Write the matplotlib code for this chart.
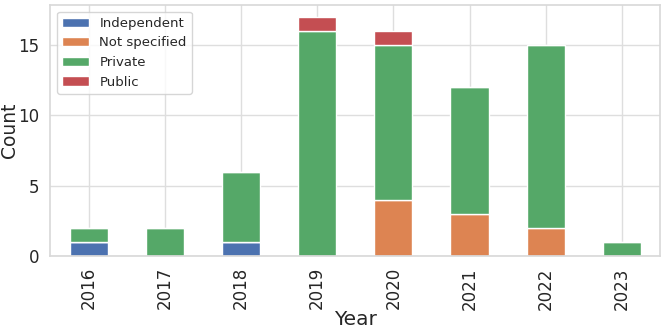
import numpy as np
import matplotlib
matplotlib.use("Agg")
import matplotlib.pyplot as plt
import seaborn as sns

# Data
years = ["2016", "2017", "2018", "2019", "2020", "2021", "2022", "2023"]
independent = [1, 0, 1, 0, 0, 0, 0, 0]
not_specified = [0, 0, 0, 0, 4, 3, 2, 0]
private = [1, 2, 5, 16, 11, 9, 13, 1]
public = [0, 0, 0, 1, 1, 0, 0, 0]

series = [("Independent", independent), ("Not specified", not_specified),
          ("Private", private), ("Public", public)]

sns.set_theme(style="whitegrid", palette="deep",
              rc={"grid.color": ".87", "axes.edgecolor": ".85"})
colors = sns.color_palette("deep")

fig, ax = plt.subplots(figsize=(6.64, 3.30), dpi=100)
x = np.arange(len(years))
bottom = np.zeros(len(years))
for i, (name, vals) in enumerate(series):
    vals = np.array(vals)
    ax.bar(x, vals, width=0.5, bottom=bottom, color=colors[i],
           edgecolor="white", linewidth=1, label=name)
    bottom += vals

ax.set_xticks(x)
ax.set_xticklabels(years, rotation=90, fontsize=12)
ax.set_xlim(-0.5, len(years) - 0.5)
ax.set_ylim(0, 17.85)
ax.set_yticks([0, 5, 10, 15])
ax.tick_params(axis="y", labelsize=12)
ax.tick_params(axis="both", pad=2)
ax.set_xlabel("Year", fontsize=14.5, labelpad=0)
ax.set_ylabel("Count", fontsize=13.5)
ax.yaxis.set_label_coords(-0.052, 0.5)
ax.legend(loc="upper left", fontsize=9.5)

fig.subplots_adjust(left=0.076, right=0.994, top=0.985, bottom=0.224)
fig.savefig("out.png", dpi=100)
